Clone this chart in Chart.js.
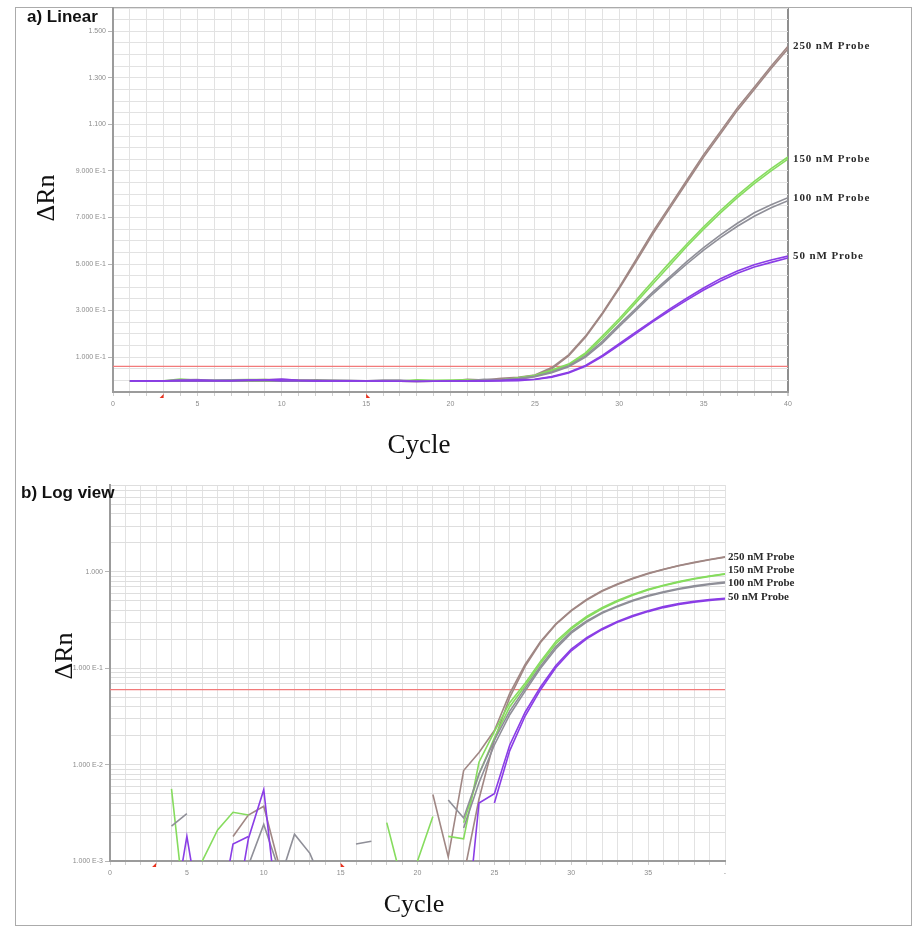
<!DOCTYPE html>
<html>
<head>
<meta charset="utf-8">
<script src="https://cdn.jsdelivr.net/npm/chart.js@4.4.1/dist/chart.umd.min.js"></script>
<style>
html,body{margin:0;padding:0;background:#fff;}
#wrap{position:relative;width:914px;height:928px;overflow:hidden;background:#fff;}
#frame{position:absolute;left:15px;top:7px;width:897px;height:919px;border:1px solid #ababab;box-sizing:border-box;}
canvas{position:absolute;left:0;}
#ca{top:0;}
#cb{top:470px;}
</style>
</head>
<body>
<div id="wrap">
  <div id="frame"></div>
  <canvas id="ca" width="914" height="470"></canvas>
  <canvas id="cb" width="914" height="458"></canvas>
</div>
<script>
// ---------------- data ----------------
const cycles = [1,2,3,4,5,6,7,8,9,10,11,12,13,14,15,16,17,18,19,20,21,22,23,24,25,26,27,28,29,30,31,32,33,34,35,36,37,38,39,40];

const probes = ['250 nM Probe', '150 nM Probe', '100 nM Probe', '50 nM Probe'];

// two replicate wells per probe concentration (ΔRn per cycle, cycles 1..40)
const p250a = [-0.002,-0.003,-0.002,-0.003,-0.002,-0.002,-0.003,0.0018,0.0030,0.0037,0.0009,-0.002,-0.003,-0.002,-0.003,-0.004,-0.004,-0.005,-0.004,-0.003,0.0049,0.0011,0.0087,0.0134,0.0226,0.055,0.11,0.19,0.29,0.40,0.52,0.64,0.75,0.86,0.97,1.07,1.17,1.26,1.35,1.436];
const p250b = [-0.003,-0.002,-0.003,-0.002,-0.003,-0.003,-0.002,-0.002,-0.003,-0.002,-0.002,-0.003,-0.002,-0.003,-0.002,-0.003,-0.004,-0.005,-0.004,-0.003,-0.002,-0.001,0.0007,0.0044,0.018,0.050,0.105,0.185,0.285,0.395,0.51,0.63,0.74,0.85,0.96,1.06,1.16,1.25,1.34,1.425];
const p150a = [-0.002,-0.003,-0.002,0.0056,0.0002,0.0010,0.0021,0.0032,0.0030,-0.002,-0.003,-0.002,-0.002,-0.003,-0.002,-0.003,-0.003,0.0025,0.0006,0.0010,0.0029,-0.002,0.0025,0.008,0.019,0.040,0.066,0.112,0.18,0.255,0.335,0.415,0.495,0.575,0.65,0.72,0.785,0.845,0.90,0.951];
const p150b = [-0.003,-0.002,-0.003,-0.002,-0.002,-0.003,-0.002,-0.002,-0.003,-0.002,-0.002,-0.003,-0.002,-0.002,-0.003,-0.003,-0.004,-0.004,-0.003,-0.002,-0.002,0.0018,0.0017,0.0106,0.022,0.044,0.070,0.118,0.19,0.265,0.345,0.427,0.507,0.585,0.66,0.73,0.795,0.855,0.91,0.96];
const p100a = [-0.002,-0.002,-0.003,0.0023,0.0031,-0.002,-0.003,-0.002,0.0009,0.0024,0.0008,-0.002,-0.003,-0.002,-0.003,-0.003,-0.004,-0.004,-0.003,-0.003,-0.002,0.0043,0.0028,0.008,0.018,0.036,0.062,0.105,0.168,0.24,0.31,0.38,0.445,0.51,0.57,0.625,0.675,0.72,0.755,0.785];
const p100b = [-0.003,-0.002,-0.002,-0.003,-0.002,-0.003,-0.002,-0.003,-0.002,-0.002,0.0006,0.0019,0.0012,0.0005,-0.002,0.0015,0.0016,-0.004,-0.004,-0.003,-0.003,-0.002,0.0022,0.0065,0.016,0.033,0.058,0.100,0.16,0.232,0.302,0.372,0.437,0.50,0.56,0.613,0.662,0.705,0.742,0.772];
const p50a  = [-0.002,-0.003,-0.002,0.0002,0.0018,0.0002,0.0002,0.0015,0.0018,-0.002,-0.003,-0.002,-0.003,-0.002,-0.003,-0.004,-0.004,-0.005,-0.004,-0.003,-0.003,-0.002,0.0001,0.0040,0.0050,0.016,0.035,0.064,0.107,0.158,0.208,0.258,0.307,0.353,0.397,0.437,0.47,0.497,0.517,0.534];
const p50b  = [-0.003,-0.002,-0.003,-0.002,-0.003,-0.002,-0.002,0.0002,0.0017,0.0055,0.0002,-0.002,-0.003,-0.002,-0.003,-0.003,-0.004,-0.004,-0.004,-0.003,-0.003,-0.002,-0.002,-0.001,0.004,0.014,0.032,0.060,0.102,0.152,0.202,0.252,0.300,0.345,0.388,0.427,0.46,0.487,0.507,0.526];

const threshold = 0.06;
const baselineCycles = [3, 15];

const xTickLabelsA = ['0','5','10','15','20','25','30','35','40'];
const xTickLabelsB = ['0','5','10','15','20','25','30','35','-'];
const yTickValuesA = [0.1, 0.3, 0.5, 0.7, 0.9, 1.1, 1.3, 1.5];
const yTickLabelsA = ['1.000 E-1','3.000 E-1','5.000 E-1','7.000 E-1','9.000 E-1','1.100','1.300','1.500'];
const yTickValuesB = [0.001, 0.01, 0.1, 1];
const yTickLabelsB = ['1.000 E-3','1.000 E-2','1.000 E-1','1.000'];

// ---------------- styling ----------------
const replicates = [[p250a, p250b], [p150a, p150b], [p100a, p100b], [p50a, p50b]];
const probeColors = ['#a08784', '#86dc5e', '#8f8f98', '#8a3de6'];
const probeOrder = [3, 2, 1, 0];
const fontSans = "'Liberation Sans', Arial, sans-serif";
const fontSerif = "'Liberation Serif', 'Times New Roman', serif";

function buildDatasets() {
  const ds = [];
  replicates.forEach((reps, pi) => {
    reps.forEach((arr, ri) => {
      ds.push({
        label: probes[pi] + ' #' + (ri + 1),
        data: cycles.map((c, i) => ({x: c, y: arr[i]})),
        borderColor: probeColors[pi],
        borderWidth: 1.6,
        pointRadius: 0,
        tension: 0,
        fill: false,
        spanGaps: false,
        order: probeOrder[pi]
      });
    });
  });
  ds.push({
    label: 'Threshold',
    data: [{x: 0, y: threshold}, {x: 40, y: threshold}],
    borderColor: '#f27a7a',
    borderWidth: 1.3,
    pointRadius: 0,
    order: 10
  });
  return ds;
}

function xAxis(labels, height, darkEnd) {
  return {
    type: 'linear', min: 0, max: 40,
    ticks: {
      stepSize: 1, autoSkip: false, maxTicksLimit: 1000, maxRotation: 0, minRotation: 0,
      padding: 4, color: '#8c8c8c', font: {family: fontSans, size: 7},
      callback: (v) => { const r = Math.round(v); return r % 5 === 0 ? labels[r / 5] : ''; }
    },
    grid: {
      color: (c) => (darkEnd && c.tick && c.tick.value === 40 ? '#8f8f8f' : '#e2e2e2'),
      lineWidth: (c) => (darkEnd && c.tick && c.tick.value === 40 ? 2 : 1),
      tickLength: 4,
      tickColor: '#cfcfcf'
    },
    border: {color: '#9b9b9b', width: 2},
    afterFit: (s) => { s.height = height; }
  };
}

function makeAnnot(cfg) {
  return {
    id: 'annot',
    afterDatasetsDraw(chart) {
      const ctx = chart.ctx, xs = chart.scales.x, ys = chart.scales.y, ca = chart.chartArea;
      ctx.save();
      // baseline start / end markers
      ctx.fillStyle = '#e8301c';
      baselineCycles.forEach((c, k) => {
        const px = xs.getPixelForValue(c), py = ca.bottom + 2;
        ctx.beginPath();
        if (k === 0) { ctx.moveTo(px - 4, py + 4); ctx.lineTo(px, py); ctx.lineTo(px, py + 4); }
        else { ctx.moveTo(px, py); ctx.lineTo(px + 4, py + 4); ctx.lineTo(px, py + 4); }
        ctx.closePath();
        ctx.fill();
      });
      // panel title
      ctx.fillStyle = '#111';
      ctx.font = 'bold 17px ' + fontSans;
      ctx.textAlign = 'left';
      ctx.textBaseline = 'alphabetic';
      ctx.fillText(cfg.title, cfg.titleX, cfg.titleY);
      // axis titles
      ctx.font = cfg.yTitleSize + 'px ' + fontSerif;
      ctx.textAlign = 'center';
      ctx.textBaseline = 'middle';
      ctx.save();
      ctx.translate(cfg.yTitleX, cfg.yTitleY);
      ctx.rotate(-Math.PI / 2);
      ctx.fillText('ΔRn', 0, 0);
      ctx.restore();
      ctx.font = cfg.xTitleSize + 'px ' + fontSerif;
      ctx.textBaseline = 'alphabetic';
      ctx.fillText('Cycle', cfg.xTitleX, cfg.xTitleY);
      // series labels
      ctx.font = 'bold 11px ' + fontSerif;
      ctx.fillStyle = '#2a2a2a';
      ctx.textAlign = 'left';
      ctx.textBaseline = 'middle';
      if ('letterSpacing' in ctx) ctx.letterSpacing = cfg.labelSpacing + 'px';
      let y0 = null;
      probes.forEach((name, pi) => {
        const endVal = replicates[pi][0][replicates[pi][0].length - 1];
        let y = ys.getPixelForValue(endVal);
        if (cfg.stack) { if (y0 === null) y0 = y; y = y0 + pi * cfg.stack; }
        ctx.fillText(name, cfg.labelX, y);
      });
      ctx.restore();
    }
  };
}

// ---------------- panel a: linear ----------------
new Chart(document.getElementById('ca'), {
  type: 'line',
  data: {datasets: buildDatasets()},
  options: {
    responsive: false, animation: false,
    layout: {padding: {left: 0, right: 126, top: 8, bottom: 0}},
    plugins: {legend: {display: false}, tooltip: {enabled: false}},
    scales: {
      x: xAxis(xTickLabelsA, 78, true),
      y: {
        type: 'linear', min: -0.05, max: 1.6,
        ticks: {
          stepSize: 0.05, autoSkip: false, maxTicksLimit: 1000, padding: 2,
          color: '#8c8c8c', font: {family: fontSans, size: 7},
          callback: (v) => { const i = yTickValuesA.findIndex(t => Math.abs(t - v) < 1e-6); return i >= 0 ? yTickLabelsA[i] : ''; }
        },
        grid: {
          color: '#e2e2e2', tickLength: 5,
          tickColor: (c) => (c.tick && yTickValuesA.some(t => Math.abs(t - c.tick.value) < 1e-6) ? '#b5b5b5' : 'rgba(0,0,0,0)')
        },
        border: {color: '#9b9b9b', width: 2},
        afterFit: (s) => { s.width = 113; }
      }
    }
  },
  plugins: [makeAnnot({
    title: 'a) Linear', titleX: 27, titleY: 22,
    yTitleX: 47, yTitleY: 198, yTitleSize: 26,
    xTitleX: 419, xTitleY: 453, xTitleSize: 27,
    labelX: 793, labelSpacing: 0.9, stack: 0
  })]
});

// ---------------- panel b: log view ----------------
new Chart(document.getElementById('cb'), {
  type: 'line',
  data: {datasets: buildDatasets()},
  options: {
    responsive: false, animation: false,
    layout: {padding: {left: 0, right: 189, top: 15, bottom: 0}},
    plugins: {legend: {display: false}, tooltip: {enabled: false}},
    scales: {
      x: xAxis(xTickLabelsB, 67, false),
      y: {
        type: 'logarithmic', min: 0.001, max: 8,
        afterBuildTicks: (s) => {
          s.ticks = s.ticks.filter(t => {
            const e = Math.floor(Math.log10(t.value) + 1e-9);
            const m = t.value / Math.pow(10, e);
            return Math.abs(m - 1.5) > 1e-6;
          });
        },
        ticks: {
          autoSkip: false, padding: 2, color: '#8c8c8c', font: {family: fontSans, size: 7},
          callback: (v) => { const i = yTickValuesB.findIndex(t => Math.abs(t - v) / t < 1e-6); return i >= 0 ? yTickLabelsB[i] : ''; }
        },
        grid: {
          color: '#dedede', tickLength: 5,
          tickColor: (c) => (c.tick && yTickValuesB.some(t => Math.abs(t - c.tick.value) / t < 1e-6) ? '#b5b5b5' : 'rgba(0,0,0,0)')
        },
        border: {color: '#9b9b9b', width: 2},
        afterFit: (s) => { s.width = 110; }
      }
    }
  },
  plugins: [makeAnnot({
    title: 'b) Log view', titleX: 21, titleY: 28,
    yTitleX: 65, yTitleY: 186, yTitleSize: 26,
    xTitleX: 414, xTitleY: 442, xTitleSize: 26,
    labelX: 728, labelSpacing: 0, stack: 13.3
  })]
});
</script>
</body>
</html>
